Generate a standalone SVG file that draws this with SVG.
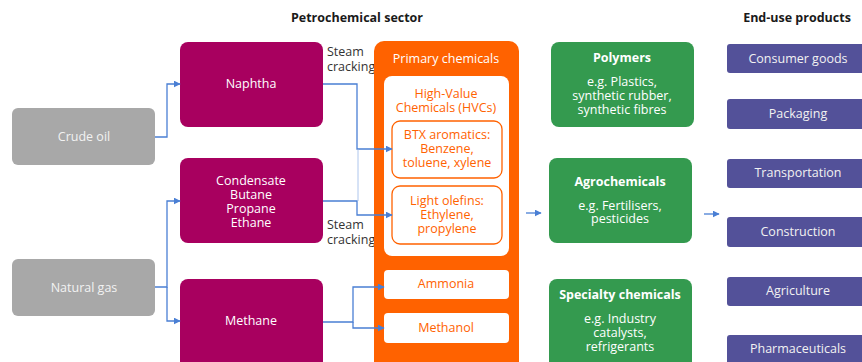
<svg xmlns="http://www.w3.org/2000/svg" width="862" height="362" viewBox="0 0 862 362">
<defs>
<style>
text{font-family:"Open Sans","Liberation Sans",sans-serif;font-size:12.5px;text-anchor:middle}
.h{font-weight:bold;fill:#1a1a1a}
.w{fill:#ffffff}
.g{fill:#f2f2f2}
.o{fill:#ff6200}
.d{fill:#333333;text-anchor:start}
.b{font-weight:bold}
.gray{fill:#a8a8a8}
.mag{fill:#a8005f}
.grn{fill:#349a4f}
.pur{fill:#535199}
.c{fill:none;stroke:#4a7fd4;stroke-width:1.3}
</style>
<marker id="a" viewBox="0 0 10 10" refX="9" refY="5" markerWidth="7" markerHeight="7" orient="auto" markerUnits="userSpaceOnUse">
<path d="M0,0L10,5L0,10z" fill="#4a7fd4"/>
</marker>
</defs>
<rect width="862" height="362" fill="#ffffff"/>
<text class="h" x="357" y="22">Petrochemical sector</text>
<text class="h" x="797" y="22">End-use products</text>

<g id="crude-oil"><rect class="gray" x="12" y="108" width="143" height="57" rx="6"/><text class="g" x="84" y="141">Crude oil</text></g>
<g id="natural-gas"><rect class="gray" x="12" y="259" width="143" height="57" rx="6"/><text class="g" x="84" y="292">Natural gas</text></g>

<g id="naphtha"><rect class="mag" x="180" y="42" width="143" height="85" rx="8"/><text class="w" x="251" y="88">Naphtha</text></g>
<g id="condensate"><rect class="mag" x="180" y="158" width="143" height="85" rx="8"/>
<text class="w" x="251" y="185">Condensate</text><text class="w" x="251" y="199">Butane</text><text class="w" x="251" y="213">Propane</text><text class="w" x="251" y="227">Ethane</text></g>
<g id="methane"><rect class="mag" x="180" y="279" width="143" height="90" rx="8"/><text class="w" x="251" y="325">Methane</text></g>

<text class="d" x="327" y="56">Steam</text><text class="d" x="327" y="71">cracking</text>
<text class="d" x="327" y="229">Steam</text><text class="d" x="327" y="244">cracking</text>

<g id="primary-chemicals">
<rect x="374" y="41" width="145" height="330" rx="10" fill="#ff6200"/>
<text class="w" x="446" y="63">Primary chemicals</text>
<rect x="384" y="76" width="125" height="180" rx="8" fill="#ffffff"/>
<text class="o" x="446" y="98">High-Value</text><text class="o" x="446" y="112">Chemicals (HVCs)</text>
</g>
<g id="btx"><rect x="392" y="121" width="110" height="57" rx="8" fill="#ffffff" stroke="#ff6200" stroke-width="1.3"/>
<text class="o" x="447" y="139">BTX aromatics:</text><text class="o" x="447" y="153">Benzene,</text><text class="o" x="447" y="167">toluene, xylene</text></g>
<g id="light-olefins"><rect x="392" y="186" width="110" height="58" rx="8" fill="#ffffff" stroke="#ff6200" stroke-width="1.3"/>
<text class="o" x="447" y="205">Light olefins:</text><text class="o" x="447" y="219">Ethylene,</text><text class="o" x="447" y="233">propylene</text></g>
<g id="ammonia"><rect x="384" y="270" width="125" height="29" rx="4" fill="#ffffff"/><text class="o" x="446" y="288">Ammonia</text></g>
<g id="methanol"><rect x="384" y="313" width="125" height="30" rx="4" fill="#ffffff"/><text class="o" x="446" y="332">Methanol</text></g>

<g id="polymers"><rect class="grn" x="551" y="42" width="143" height="85" rx="8"/>
<text class="w b" x="622" y="62">Polymers</text><text class="w" x="622" y="86">e.g. Plastics,</text><text class="w" x="622" y="100">synthetic rubber,</text><text class="w" x="622" y="114">synthetic fibres</text></g>
<g id="agrochemicals"><rect class="grn" x="549" y="158" width="143" height="85" rx="8"/>
<text class="w b" x="620" y="186">Agrochemicals</text><text class="w" x="620" y="210">e.g. Fertilisers,</text><text class="w" x="620" y="223">pesticides</text></g>
<g id="specialty-chemicals"><rect class="grn" x="549" y="279" width="143" height="90" rx="8"/>
<text class="w b" x="620" y="299">Specialty chemicals</text><text class="w" x="620" y="323">e.g. Industry</text><text class="w" x="620" y="337">catalysts,</text><text class="w" x="620" y="351">refrigerants</text></g>

<g id="consumer-goods"><rect class="pur" x="727" y="44" width="150" height="29" rx="3"/><text class="g" x="798" y="63">Consumer goods</text></g>
<g id="packaging"><rect class="pur" x="727" y="99" width="150" height="30" rx="3"/><text class="g" x="798" y="118">Packaging</text></g>
<g id="transportation"><rect class="pur" x="727" y="159" width="150" height="29" rx="3"/><text class="g" x="798" y="177">Transportation</text></g>
<g id="construction"><rect class="pur" x="727" y="217" width="150" height="30" rx="3"/><text class="g" x="798" y="236">Construction</text></g>
<g id="agriculture"><rect class="pur" x="727" y="277" width="150" height="29" rx="3"/><text class="g" x="798" y="295">Agriculture</text></g>
<g id="pharmaceuticals"><rect class="pur" x="727" y="335" width="150" height="35" rx="3"/><text class="g" x="798" y="353">Pharmaceuticals</text></g>

<g id="connectors">
<path class="c" d="M155,137H167V84H180" marker-end="url(#a)"/>
<path class="c" d="M155,287H167V201H180" marker-end="url(#a)"/>
<path class="c" d="M167,287V321H180" marker-end="url(#a)"/>
<path class="c" d="M323,84H357V149H392" marker-end="url(#a)"/>
<path class="c" d="M323,201H357V215H392" marker-end="url(#a)"/>
<path d="M358,149V201" stroke="#9bb8e8" stroke-width="0.8" fill="none"/>
<path class="c" d="M323,322H353V287H384" marker-end="url(#a)"/>
<path class="c" d="M353,322V328H384" marker-end="url(#a)"/>
<path class="c" d="M526,213H541" marker-end="url(#a)"/>
<path class="c" d="M704,214H719" marker-end="url(#a)"/>
</g>
</svg>
